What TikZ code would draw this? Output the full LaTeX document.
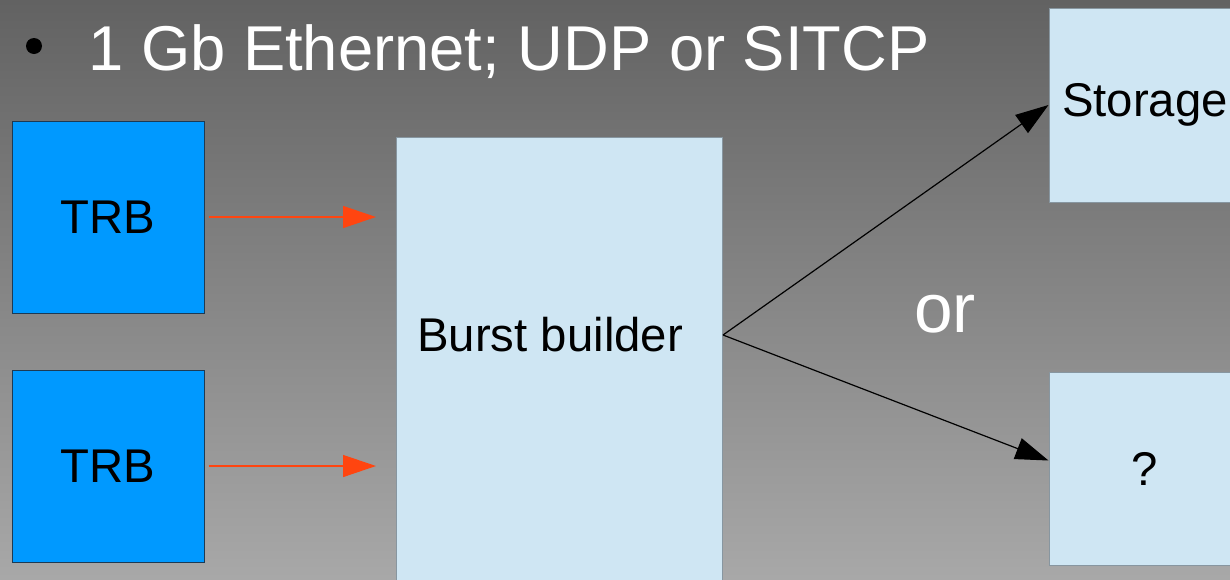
\documentclass[tikz,border=0pt]{standalone}
\usepackage{fontspec}
\setmainfont{Liberation Sans}
\usetikzlibrary{arrows.meta}

\definecolor{bgtop}{RGB}{98,98,98}
\definecolor{bgbot}{RGB}{168,168,168}
\definecolor{trbblue}{RGB}{0,153,255}
\definecolor{trbedge}{RGB}{28,58,84}
\definecolor{paleblue}{RGB}{207,230,243}
\definecolor{paleedge}{RGB}{135,150,160}
\definecolor{linkred}{RGB}{255,69,16}

\tikzset{
  boxfont/.style={font=\fontsize{35.5}{40}\selectfont},
  trbbox/.style={draw=trbedge, fill=trbblue, line width=0.75pt, minimum width=144pt, minimum height=144pt, inner sep=0pt, boxfont},
  palebox/.style={draw=paleedge, fill=paleblue, line width=0.75pt, inner sep=0pt, boxfont},
  redlink/.style={draw=linkred, line width=1pt, -{Triangle[length=24.75pt,width=16.5pt]}},
  blacklink/.style={draw=black, line width=0.9pt, -{Triangle[length=24.75pt,width=16.5pt]}},
}

\begin{document}
\begin{tikzpicture}[x=0.75pt,y=0.75pt,yscale=-1,xscale=1]
%Background
\useasboundingbox (0,0) rectangle (1230,579);
\clip (0,0) rectangle (1230,579);
\shade[top color=bgtop, bottom color=bgbot] (0,0) rectangle (1230,579);

% Title line
\node[circle, fill=black, inner sep=0pt, minimum size=12pt] (bullet) at (34,46) {};
\node[text=white, font=\fontsize{47.5}{56}\selectfont, anchor=base west, inner sep=0pt] (title) at (88,70) {1 Gb Ethernet; UDP or SITCP};

%Shape: TRB boxes
\node[trbbox] (trbA) at (108,217) {TRB};
\node[trbbox] (trbB) at (108,466) {TRB};

%Shape: Burst builder
\node[palebox, minimum width=244.5pt, minimum height=375pt, anchor=north west] (builder) at (396,137) {};
\node[boxfont, anchor=west, inner sep=0pt] (builderlabel) at (417,335) {Burst builder};
\coordinate (fork) at (builder.east |- builderlabel.west);

%Shape: targets
\node[palebox, minimum width=144pt, minimum height=145.5pt] (storage) at (1145,105) {Storage};
\node[palebox, minimum width=144pt, minimum height=144.75pt] (unknown) at (1145,468.5) {?};

% Text Node
\node[text=white, font=\fontsize{52}{60}\selectfont, anchor=base] (orlabel) at (945,332) {or};

%Straight Lines
\draw[redlink, shorten <=3pt, shorten >=15pt] (trbA.east) -- (trbA.east -| builder.west);
\draw[redlink, shorten <=3pt, shorten >=15pt] (trbB.east) -- (trbB.east -| builder.west);
\draw[blacklink] (fork) -- (storage.west);
\draw[blacklink] (fork) -- ([yshift=-6pt]unknown.west);

\end{tikzpicture}
\end{document}
